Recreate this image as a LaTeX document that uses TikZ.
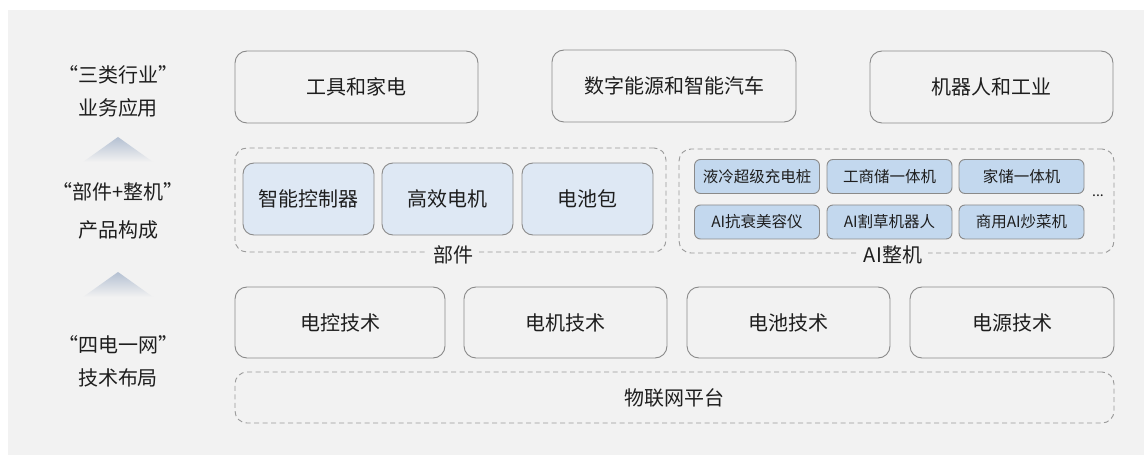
\documentclass[tikz,border=0pt]{standalone}
\usepackage{fontspec}
\setmainfont{Noto Sans CJK SC}
\usetikzlibrary{positioning}
\definecolor{panel}{HTML}{F2F2F2}
\definecolor{edge}{HTML}{8A8A8A}
\definecolor{dashc}{HTML}{9A9A9A}
\definecolor{partfill}{HTML}{DEE8F4}
\definecolor{aifill}{HTML}{C3D8EE}
\definecolor{txt}{HTML}{1E1E1E}
\definecolor{tri}{HTML}{B4C0D2}
\tikzset{
  bigbox/.style={draw=edge, line width=0.9pt, rounded corners=12pt, fill=panel, text=txt, font=\fontsize{20}{24}\selectfont, inner sep=0pt},
  partbox/.style={draw=edge, line width=0.9pt, rounded corners=11pt, fill=partfill, text=txt, font=\fontsize{20}{24}\selectfont, inner sep=0pt, minimum width=131pt, minimum height=72pt},
  aibox/.style={draw=edge, line width=0.9pt, rounded corners=6pt, fill=aifill, text=txt, font=\fontsize{15.5}{18}\selectfont, inner sep=0pt, minimum width=125pt, minimum height=34pt},
  groupbox/.style={draw=dashc, line width=0.9pt, dash pattern=on 5pt off 3.5pt, rounded corners=12pt, inner sep=0pt},
  grouplabel/.style={fill=panel, text=txt, font=\fontsize{20}{24}\selectfont, inner xsep=6pt, inner ysep=2pt},
  sidelabel/.style={text=txt, font=\fontsize{20}{33}\selectfont, align=center},
}
\begin{document}
\begin{tikzpicture}[x=1pt,y=-1pt]
\useasboundingbox (0,0) rectangle (1144,457);
\fill[white] (0,0) rectangle (1144,457);
\fill[panel] (8,10) rectangle (1144,455);

% left labels
\node[sidelabel] (l1) at (118,91) {“三类行业”\\业务应用};
\node[sidelabel, font=\fontsize{20}{38}\selectfont] (l2) at (118,211) {“部件+整机”\\产品构成};
\node[sidelabel] (l3) at (118,361) {“四电一网”\\技术布局};
\shade[top color=tri, bottom color=panel] (83,162) -- (118,137) -- (153,162) -- cycle;
\shade[top color=tri, bottom color=panel] (83,297) -- (118,272) -- (153,297) -- cycle;

% row 1
\node[bigbox, minimum width=243pt, minimum height=72pt] (t1) at (356.5,87) {工具和家电};
\node[bigbox, minimum width=244pt, minimum height=72pt] (t2) at (674,86) {数字能源和智能汽车};
\node[bigbox, minimum width=243pt, minimum height=72pt] (t3) at (991.5,87) {机器人和工业};

% row 2: parts
\node[groupbox, minimum width=431pt, minimum height=104pt] (pg) at (450.5,200) {};
\node[partbox] (p1) at (308.5,199) {智能控制器};
\node[partbox] (p2) at (447.5,199) {高效电机};
\node[partbox] (p3) at (587.5,199) {电池包};
\node[grouplabel] (pl) at (453,255) {部件};

% row 2: AI machines
\node[groupbox, minimum width=435pt, minimum height=104pt] (ag) at (896.5,201) {};
\node[aibox] (a1) at (757,176.5) {液冷超级充电桩};
\node[aibox] (a2) at (889.5,176.5) {工商储一体机};
\node[aibox] (a3) at (1021.5,176.5) {家储一体机};
\node[aibox] (a4) at (757,222) {AI抗衰美容仪};
\node[aibox] (a5) at (889.5,222) {AI割草机器人};
\node[aibox] (a6) at (1021.5,222) {商用AI炒菜机};
\node[text=txt, font=\fontsize{14}{16}\selectfont, inner sep=0pt] (dots) at (1098,196) {...};
\node[grouplabel] (al) at (893,255) {AI整机};

% row 3
\node[bigbox, minimum width=210pt, minimum height=71pt] (b1) at (340,322.5) {电控技术};
\node[bigbox, minimum width=203pt, minimum height=71pt] (b2) at (565.5,322.5) {电机技术};
\node[bigbox, minimum width=203pt, minimum height=71pt] (b3) at (788.5,322.5) {电池技术};
\node[bigbox, minimum width=204pt, minimum height=71pt] (b4) at (1012,322.5) {电源技术};
\node[groupbox, minimum width=879pt, minimum height=51pt, text=txt, font=\fontsize{20}{24}\selectfont] (iot) at (674.5,397.5) {物联网平台};
\end{tikzpicture}
\end{document}
